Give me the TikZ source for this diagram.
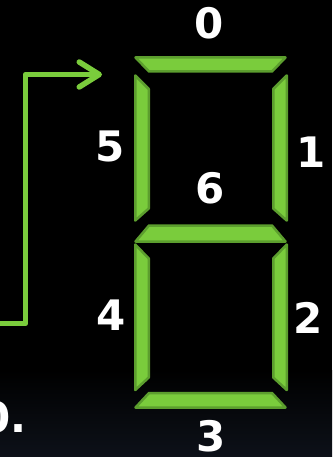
\documentclass[tikz,border=0pt]{standalone}
\usepackage{fontspec}
\setmainfont{DejaVu Sans}
\usetikzlibrary{arrows.meta}

\definecolor{segfill}{HTML}{7ACC3C}
\definecolor{segedge}{HTML}{5C9E2E}
\definecolor{bgnavy}{RGB}{13,17,25}

\tikzset{
	seg/.style={fill=segfill, draw=segedge, line width=2.5pt, line join=round},
	digit/.style={text=white, inner sep=0pt, font=\bfseries\fontsize{42}{42}\selectfont},
	wire/.style={draw=segfill, line width=5.5pt, line cap=round, line join=round}
}

\begin{document}
\begin{tikzpicture}[x=1pt,y=-1pt]
	\useasboundingbox (0,0) rectangle (332,457);
	
	% Background
	\fill[black] (0,0) rectangle (332,457);
	\shade[top color=black, bottom color=bgnavy] (0,370) rectangle (332,457);
	
	% Horizontal segments 0, 6, 3
	\draw[seg] (135.5,57.5) -- (285.5,57.5) -- (272,71.5) -- (149,71.5) -- cycle;
	\draw[seg] (149,225.5) -- (272,225.5) -- (285.5,241.5) -- (135.5,241.5) -- cycle;
	\draw[seg] (149,393) -- (272,393) -- (285.5,407.5) -- (135.5,407.5) -- cycle;
	
	% Vertical segments 5, 1 (upper) and 4, 2 (lower)
	\foreach \xo/\xi in {135.25/148.75, 286.75/273.25} {
		\draw[seg] (\xo,75.5) -- (\xi,89) -- (\xi,208.5) -- (\xo,220.5) -- cycle;
		\draw[seg] (\xo,244.5) -- (\xi,258.5) -- (\xi,377.5) -- (\xo,390) -- cycle;
	}
	
	% Segment labels
	\node[digit] (l0) at (209.5,23) {0};
	\node[digit] (l1) at (311,152) {1};
	\node[digit] (l2) at (308,318) {2};
	\node[digit] (l3) at (211,436) {3};
	\node[digit] (l4) at (111,315) {4};
	\node[digit] (l5) at (110,146) {5};
	\node[digit] (l6) at (210,188) {6};
	
	% Cut-off text at the left edge
	\node[digit, anchor=base east] (dp) at (27,432) {0.};
	
	% Input wire
	\coordinate (in) at (-3,323.5);
	\coordinate (tip) at (102,74.5);
	\draw[wire, -{Straight Barb[length=20pt,width=25pt,round]}] (in) -- ++(28.5,0) |- (tip);
\end{tikzpicture}
\end{document}
